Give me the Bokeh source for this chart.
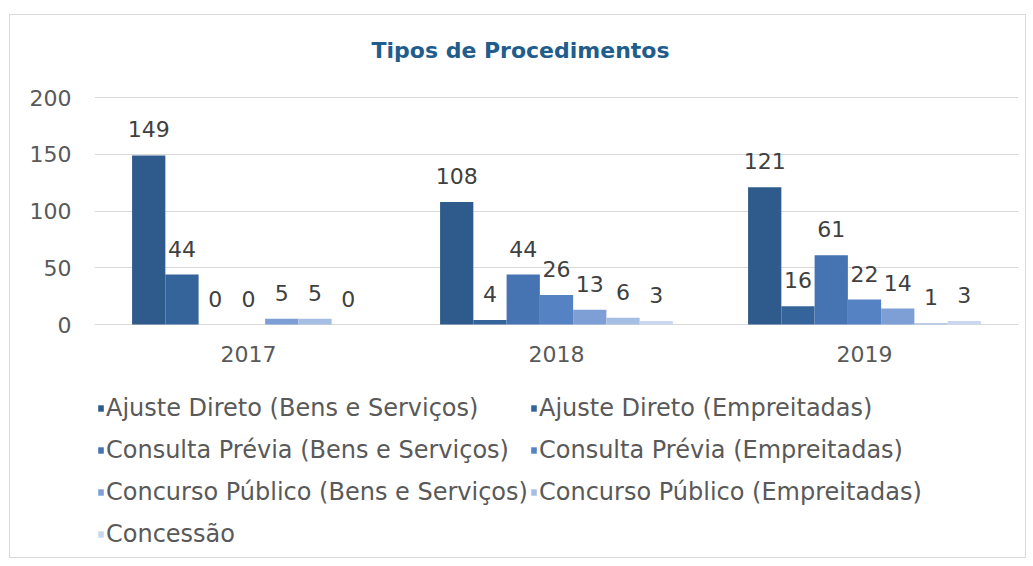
from bokeh.plotting import figure
from bokeh.models import (ColumnDataSource, FactorRange, Range1d, FixedTicker,
                          Legend, LegendItem)
from bokeh.transform import dodge
from bokeh.embed import file_html
from bokeh.resources import INLINE
from bokeh.core.properties import value

# ---------------- data ----------------
years = ["2017", "2018", "2019"]
series_names = [
    "Ajuste Direto (Bens e Serviços)",
    "Ajuste Direto (Empreitadas)",
    "Consulta Prévia (Bens e Serviços)",
    "Consulta Prévia (Empreitadas)",
    "Concurso Público (Bens e Serviços)",
    "Concurso Público (Empreitadas)",
    "Concessão",
]
ajuste_bs = [149, 108, 121]
ajuste_emp = [44, 4, 16]
consulta_bs = [0, 44, 61]
consulta_emp = [0, 26, 22]
concurso_bs = [5, 13, 14]
concurso_emp = [5, 6, 1]
concessao = [0, 3, 3]
series_values = [ajuste_bs, ajuste_emp, consulta_bs, consulta_emp,
                 concurso_bs, concurso_emp, concessao]
y_ticks = [0, 50, 100, 150, 200]
title_text = "Tipos de Procedimentos"

colors = ["#2E5B8B", "#35649A", "#4674B3", "#5482C2",
          "#7E9FD6", "#A6BDE4", "#CAD7EE"]

FONT = "DejaVu Sans"
TXT = "#404040"

# layout constants (pixels)
W, H = 1017, 544
TOP, BOTTOM, LEFT, RIGHT = 4, 4, 84, 9
PLOT_TOP = 82          # pixel row of the 200 gridline inside the figure
AXIS_PX = 227          # pixel height from 0 to 200
frame_h = H - TOP - BOTTOM
px_per_unit = AXIS_PX / 200
y_top = 200 + (PLOT_TOP - TOP) / px_per_unit
y_min = y_top - frame_h / px_per_unit   # frame also hosts title and legend

p = figure(x_range=FactorRange(factors=years, range_padding=0),
           y_range=Range1d(y_min, y_top),
           width=W, height=H,
           output_backend="svg", toolbar_location=None,
           min_border_left=LEFT, min_border_right=RIGHT,
           min_border_top=TOP, min_border_bottom=BOTTOM)
p.styles = {"border": "1px solid #d9d9d9", "margin-left": "9px", "margin-top": "14px"}

bw = 0.108
renderers = []
for i, (name, vals) in enumerate(zip(series_names, series_values)):
    src = ColumnDataSource(dict(year=years, v=vals, lab=[str(v) for v in vals]))
    off = (i - 3) * bw
    r = p.vbar(x=dodge("year", off, range=p.x_range), top="v", width=bw,
               source=src, fill_color=colors[i], line_color=None)
    renderers.append(r)
    p.text(x=dodge("year", off, range=p.x_range), y="v", text="lab", source=src,
           text_align="center", text_baseline="alphabetic", y_offset=-26,
           text_font=value(FONT), text_font_size="22px", text_color=TXT)

# category labels (drawn under the zero line)
cat_src = ColumnDataSource(dict(year=years, zero=[0] * len(years)))
p.text(x="year", y="zero", text="year", source=cat_src,
       text_align="center", text_baseline="middle", y_offset=29,
       text_font=value(FONT), text_font_size="22px", text_color="#595959")

# chart title, centred on the chart area above the top gridline
title_src = ColumnDataSource(dict(x=[years[1]], y=[y_ticks[-1]], t=[title_text]))
p.text(x="x", y="y", text="t", source=title_src,
       text_align="center", text_baseline="middle", x_offset=-36, y_offset=-47,
       text_font=value(FONT), text_font_size="22px", text_font_style="bold",
       text_color="#215D8C")

# axes
p.xaxis.visible = False
p.yaxis.ticker = FixedTicker(ticks=y_ticks)
p.yaxis.axis_line_color = None
p.yaxis.major_tick_line_color = None
p.yaxis.minor_tick_line_color = None
p.yaxis.major_label_text_font = FONT
p.yaxis.major_label_text_font_size = "22px"
p.yaxis.major_label_text_color = "#595959"
p.yaxis.major_label_standoff = 17
p.xgrid.grid_line_color = None
p.ygrid.grid_line_color = "#D9D9D9"
p.ygrid.grid_line_width = 1
p.outline_line_color = None


def make_legend(idx, loc):
    lg = Legend(items=[LegendItem(label=series_names[k], renderers=[renderers[k]]) for k in idx],
                location=loc, orientation="vertical",
                label_text_font=FONT, label_text_font_size="24px",
                label_text_color="#595959", glyph_width=7, glyph_height=8,
                label_standoff=2, spacing=14, padding=0, margin=0,
                label_height=28, border_line_color=None,
                background_fill_alpha=0)
    p.add_layout(lg, "center")


make_legend([0, 2, 4, 6], (3, 7))
make_legend([1, 3, 5], (436, 49))

open("out.html", "w").write(file_html(p, INLINE))
